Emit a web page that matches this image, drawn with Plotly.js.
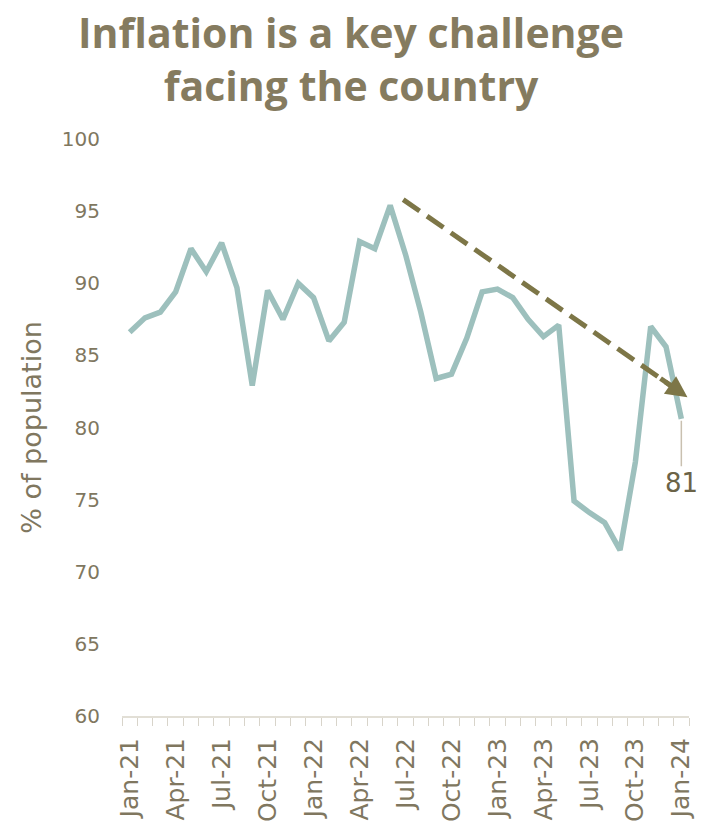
<!DOCTYPE html>
<html>
<head>
<meta charset="utf-8">
<script src="https://cdn.plot.ly/plotly-3.0.1.min.js"></script>
<style>html,body{margin:0;padding:0;background:#fff;}#chart{width:720px;height:829px;}</style>
</head>
<body>
<div id="chart"></div>
<script>
const months = ['Jan-21','Feb-21','Mar-21','Apr-21','May-21','Jun-21','Jul-21','Aug-21','Sep-21','Oct-21','Nov-21','Dec-21',
  'Jan-22','Feb-22','Mar-22','Apr-22','May-22','Jun-22','Jul-22','Aug-22','Sep-22','Oct-22','Nov-22','Dec-22',
  'Jan-23','Feb-23','Mar-23','Apr-23','May-23','Jun-23','Jul-23','Aug-23','Sep-23','Oct-23','Nov-23','Dec-23',
  'Jan-24'];
const values = [86.6,87.6,88.0,89.4,92.4,90.8,92.8,89.7,82.9,89.5,87.5,90.0,
  89.0,86.0,87.3,92.9,92.4,95.4,92.0,88.0,83.4,83.7,86.2,89.4,
  89.6,89.0,87.5,86.3,87.1,74.9,74.1,73.4,71.5,77.6,87.0,85.6,
  80.6];
const tickLabels = ['Jan-21','Apr-21','Jul-21','Oct-21','Jan-22','Apr-22','Jul-22','Oct-22','Jan-23','Apr-23','Jul-23','Oct-23','Jan-24'];
// trend arrow endpoints (category index, value)
const trendFrom = [17.85, 95.8];
const trendTo = [36.4, 82.1];

const txt = '#80775f';
const lerp = (f) => [trendFrom[0] + (trendTo[0]-trendFrom[0])*f, trendFrom[1] + (trendTo[1]-trendFrom[1])*f];
const shapeEnd = lerp(0.945);
const headStart = lerp(0.9);
const lastIdx = values.length - 1;

const trace = {
  x: months, y: values, type: 'scatter', mode: 'lines',
  line: {color: '#9dc0bd', width: 5.5}, hoverinfo: 'skip'
};

const layout = {
  width: 720, height: 829,
  margin: {l: 122, r: 31, t: 139, b: 113},
  paper_bgcolor: '#ffffff', plot_bgcolor: '#ffffff',
  showlegend: false,
  font: {family: 'DejaVu Sans', color: txt},
  title: {
    text: 'Inflation is a key challenge<br>facing the country',
    font: {family: 'Open Sans', size: 41, color: '#857b5f', weight: 700},
    x: 0.4875, xanchor: 'center', xref: 'container',
    y: 1 - 48/829, yanchor: 'middle', yref: 'container'
  },
  xaxis: {
    type: 'category', categoryorder: 'array', categoryarray: months,
    range: [-0.5, months.length - 0.5],
    tickvals: months,
    ticktext: months.map(m => tickLabels.includes(m) ? m : ''),
    tickson: 'boundaries',
    ticks: 'outside', ticklen: 8, tickwidth: 1, tickcolor: '#d8d4ca',
    showline: true, linecolor: '#e2dfd6', linewidth: 2,
    showgrid: false, zeroline: false,
    ticklabelstandoff: 10,
    tickangle: -90, tickfont: {size: 25, color: txt, family: 'DejaVu Sans'},
    fixedrange: true
  },
  yaxis: {
    range: [60, 100], dtick: 5, tick0: 60,
    showgrid: false, zeroline: false, showline: false,
    ticks: 'outside', ticklen: 17, tickcolor: 'rgba(0,0,0,0)',
    tickfont: {size: 20, color: txt, family: 'DejaVu Sans'},
    title: {text: '% of population', font: {size: 27, color: txt, family: 'DejaVu Sans'}, standoff: 12},
    fixedrange: true
  },
  shapes: [{
    type: 'line', xref: 'x', yref: 'y',
    x0: trendFrom[0], y0: trendFrom[1], x1: shapeEnd[0], y1: shapeEnd[1],
    line: {color: '#7d7647', width: 5, dash: '20px,9px'}
  }],
  annotations: [
    {
      xref: 'x', yref: 'y', axref: 'x', ayref: 'y',
      x: trendTo[0], y: trendTo[1], ax: headStart[0], ay: headStart[1],
      text: '', showarrow: true, arrowhead: 2, arrowsize: 0.85, arrowwidth: 5, arrowcolor: '#7d7647'
    },
    {
      xref: 'x', yref: 'y', x: lastIdx, y: values[lastIdx],
      text: String(Math.round(values[lastIdx])),
      showarrow: true, arrowhead: 0, arrowwidth: 1.5, arrowcolor: '#c9c0b0',
      ax: 0, ay: 64, standoff: 2,
      font: {size: 26, color: '#6b6347', family: 'DejaVu Sans'}
    }
  ]
};

Plotly.newPlot('chart', [trace], layout, {displayModeBar: false, staticPlot: true});
</script>
</body>
</html>
